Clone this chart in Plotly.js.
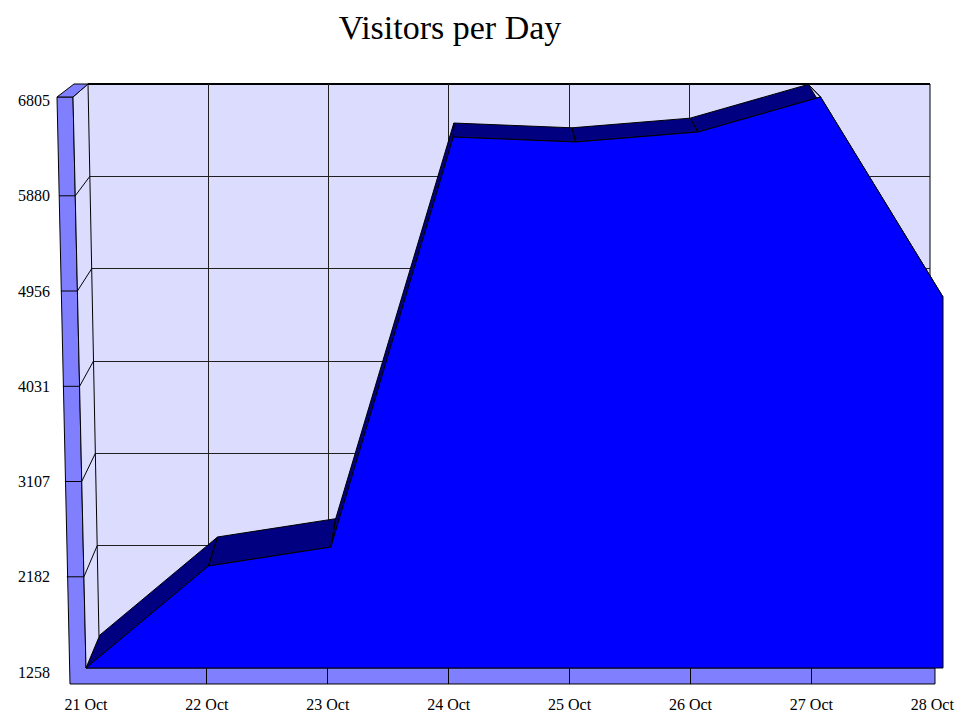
<!DOCTYPE html>
<html>
<head>
<meta charset="utf-8">
<script src="https://cdn.plot.ly/plotly-3.0.1.min.js"></script>
<style>html,body{margin:0;padding:0;background:#fff;}#chart{width:958px;height:715px;}</style>
</head>
<body>
<div id="chart"></div>
<script>
// ---- data ----
const days = ['21 Oct','22 Oct','23 Oct','24 Oct','25 Oct','26 Oct','27 Oct','28 Oct'];
const visitors = [1258, 2249, 2433, 6416, 6368, 6465, 6805, 4862];
const yTicks = [1258, 2182, 3107, 4031, 4956, 5880, 6805];
const yTickText = ['1258','2182','3107','4031','4956','5880','6805'];

// ---- geometry / style ----
const W = 958, H = 715;
const LAV = '#dcdcff', MID = '#8080ff', NAVY = '#000080', BLUE = '#0000ff', INK = '#000000';
const idx = days.map((d, i) => i);
const nLast = days.length - 1;
const floorVal = yTicks[0], topVal = yTicks[yTicks.length - 1];

function lin(v0, p0, v1, p1) {
  const k = (p1 - p0) / (v1 - v0);
  return { px: v => p0 + (v - v0) * k, val: p => v0 + (p - p0) / k };
}
// front face of the area (pixel anchors)
const fx = lin(0, 86, nLast, 943);
const fy = lin(floorVal, 668, topVal, 97);
// perspective: back face = front scaled toward vanishing point
const VP = [469, -263], DEPTH = 0.965;
const Vx = fx.val(VP[0]), Vy = fy.val(VP[1]);
const backPt = (i, v) => [Vx + DEPTH * (i - Vx), Vy + DEPTH * (v - Vy)];

// top surface quads
const qx = [], qy = [];
for (let i = 0; i < nLast; i++) {
  const b0 = backPt(idx[i], visitors[i]), b1 = backPt(idx[i + 1], visitors[i + 1]);
  qx.push(idx[i], idx[i + 1], b1[0], b0[0], idx[i], null);
  qy.push(visitors[i], visitors[i + 1], b1[1], b0[1], visitors[i], null);
}

const traces = [
  { x: [0], y: [floorVal], xaxis: 'x', yaxis: 'y', mode: 'none', hoverinfo: 'skip', showlegend: false },
  { x: qx, y: qy, xaxis: 'x2', yaxis: 'y2', mode: 'lines', fill: 'toself', fillcolor: NAVY,
    line: { color: INK, width: 1 }, connectgaps: false, hoverinfo: 'skip', showlegend: false },
  { x: idx.concat([nLast, 0]), y: visitors.concat([floorVal, floorVal]), xaxis: 'x2', yaxis: 'y2',
    mode: 'lines', fill: 'toself', fillcolor: BLUE, line: { color: INK, width: 1 },
    hoverinfo: 'skip', showlegend: false },
  { x: [], y: [], xaxis: 'x3', yaxis: 'y3', mode: 'none', showlegend: false }
];

// frame helpers (pixel -> paper)
const P = (x, y) => (x / W).toFixed(5) + ',' + (1 - y / H).toFixed(5);
const path = pts => 'M' + pts.map(p => P(p[0], p[1])).join('L') + 'Z';
const line = (x0, y0, x1, y1, w, layer) => ({ type: 'line', xref: 'paper', yref: 'paper',
  x0: x0 / W, y0: 1 - y0 / H, x1: x1 / W, y1: 1 - y1 / H, line: { color: INK, width: w || 1 }, layer: layer || 'above' });

const backWallY = lin(floorVal, 638, topVal, 84);
const slabY = lin(floorVal, 672, topVal, 100.5);
const xOut = y => 57 + (y - 97) * 12 / 587;
const xIn = y => 73 + (y - 97) * 13 / 571;
const xBackLeft = y => 88 + (y - 84) * 11 / 553;

const shapes = [
  { type: 'rect', xref: 'paper', yref: 'paper', x0: 88 / W, x1: 930 / W, y0: 1 - 638 / H, y1: 1 - 84 / H,
    fillcolor: LAV, line: { width: 0 }, layer: 'below' },
  line(88, 84, 930, 84, 2, 'below'),
  line(930, 84, 930, 640, 1, 'below'),
  { type: 'path', xref: 'paper', yref: 'paper', path: path([[57, 97], [73, 97], [86, 668], [935, 668], [935, 684], [70, 684]]),
    fillcolor: MID, line: { color: INK, width: 1 }, layer: 'below' },
  { type: 'path', xref: 'paper', yref: 'paper', path: path([[73, 97], [88, 84], [99, 637], [86, 668]]),
    fillcolor: LAV, line: { color: INK, width: 1 }, layer: 'above' },
  { type: 'path', xref: 'paper', yref: 'paper', path: path([[57, 97], [73, 97], [88, 84], [74, 84]]),
    fillcolor: MID, line: { color: INK, width: 1 }, layer: 'above' }
];
yTicks.slice(1, -1).forEach(v => {
  const ys = slabY.px(v), yb = backWallY.px(v);
  shapes.push(line(xOut(ys), ys, xIn(ys), ys));
  shapes.push(line(xIn(ys), ys, xBackLeft(yb), yb));
});

const font = { family: 'Liberation Serif, Times New Roman, serif', size: 16, color: INK };
const layout = {
  width: W, height: H, margin: { l: 0, r: 0, t: 0, b: 0 },
  paper_bgcolor: '#ffffff', plot_bgcolor: 'rgba(0,0,0,0)', showlegend: false,
  title: { text: 'Visitors per Day', font: { family: 'Liberation Serif, Times New Roman, serif', size: 34, color: INK },
    x: 450 / W, xanchor: 'center', xref: 'paper', y: 1 - 27 / H, yanchor: 'middle', yref: 'container' },
  xaxis: { domain: [88 / W, 930 / W], anchor: 'y', range: [0, nLast], tickvals: idx, showticklabels: false, ticks: '',
    showgrid: true, gridcolor: '#202020', gridwidth: 1, zeroline: false, showline: false, fixedrange: true },
  yaxis: { domain: [1 - 638 / H, 1 - 84 / H], anchor: 'x', range: [floorVal, topVal], tickvals: yTicks, showticklabels: false,
    ticks: '', showgrid: true, gridcolor: '#202020', gridwidth: 1, zeroline: false, showline: false, fixedrange: true },
  xaxis2: { domain: [0, 1], anchor: 'y2', range: [fx.val(0), fx.val(W)], visible: false, fixedrange: true },
  yaxis2: { domain: [0, 1], anchor: 'x2', range: [fy.val(H), fy.val(0)], visible: false, fixedrange: true },
  xaxis3: { domain: [86 / W, 932.3 / W], anchor: 'free', position: 1 - 684 / H, range: [0, nLast],
    tickvals: idx, ticktext: days, ticks: 'inside', ticklen: 16, tickwidth: 1, tickcolor: INK,
    showgrid: false, zeroline: false, showline: false, tickfont: font, ticklabelstandoff: 9, fixedrange: true },
  yaxis3: { domain: [1 - 672 / H, 1 - 100.5 / H], anchor: 'free', position: 54 / W, side: 'left', range: [floorVal, topVal],
    tickvals: yTicks, ticktext: yTickText, ticks: '', showgrid: false, zeroline: false, showline: false,
    tickfont: font, ticklabelstandoff: 4, fixedrange: true },
  shapes: shapes
};
Plotly.newPlot('chart', traces, layout, { displayModeBar: false, staticPlot: true });
</script>
</body>
</html>
